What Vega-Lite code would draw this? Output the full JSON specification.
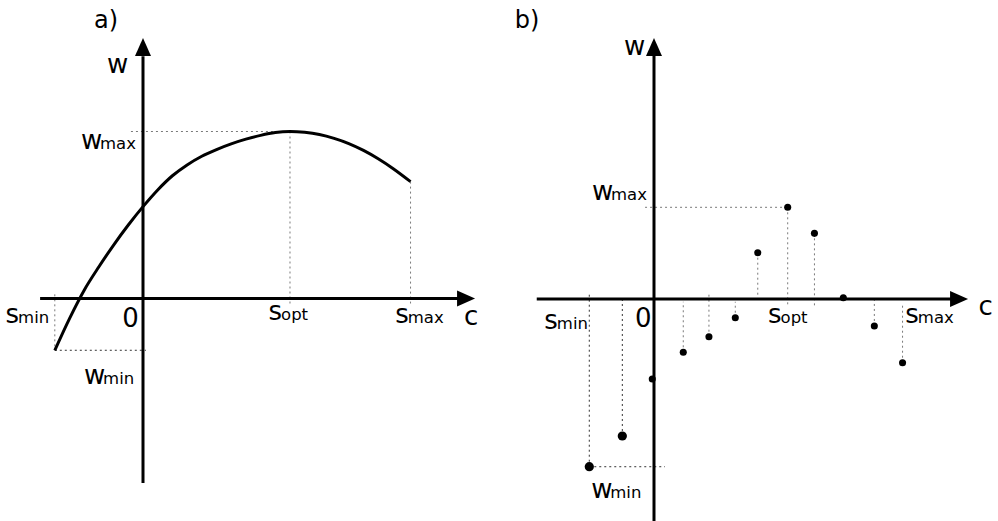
{
  "$schema": "https://vega.github.io/schema/vega-lite/v6.json",
  "padding": 0,
  "spacing": 0,
  "bounds": "flush",
  "background": "white",
  "config": {
    "view": {"stroke": null},
    "font": "DejaVu Sans",
    "text": {"font": "DejaVu Sans", "color": "black", "baseline": "alphabetic", "align": "left"}
  },
  "datasets": {
    "curveA": [
      {"c": -0.60, "w": -0.31}, {"c": -0.50, "w": -0.12}, {"c": -0.40, "w": 0.05},
      {"c": -0.30, "w": 0.19}, {"c": -0.20, "w": 0.32}, {"c": -0.10, "w": 0.44},
      {"c": 0.0, "w": 0.55}, {"c": 0.10, "w": 0.65}, {"c": 0.20, "w": 0.735},
      {"c": 0.30, "w": 0.80}, {"c": 0.40, "w": 0.852}, {"c": 0.50, "w": 0.892},
      {"c": 0.60, "w": 0.926}, {"c": 0.70, "w": 0.954}, {"c": 0.80, "w": 0.977},
      {"c": 0.90, "w": 0.994}, {"c": 1.0, "w": 1.0}, {"c": 1.10, "w": 0.995},
      {"c": 1.20, "w": 0.982}, {"c": 1.30, "w": 0.959}, {"c": 1.40, "w": 0.928},
      {"c": 1.50, "w": 0.887}, {"c": 1.60, "w": 0.837}, {"c": 1.70, "w": 0.779},
      {"c": 1.82, "w": 0.70}
    ],
    "guidesA": [
      {"c": -0.082, "w": 1.0, "c2": 1.0, "w2": 1.0, "kind": "ref"},
      {"c": 1.0, "w": 1.0, "c2": 1.0, "w2": -0.03, "kind": "ref"},
      {"c": 1.82, "w": 0.70, "c2": 1.82, "w2": -0.03, "kind": "ref"},
      {"c": -0.60, "w": 0.025, "c2": -0.60, "w2": -0.31, "kind": "ref"},
      {"c": -0.60, "w": -0.31, "c2": 0.02, "w2": -0.31, "kind": "min"}
    ],
    "axesA": [
      {"c": -0.70, "w": 0, "c2": 2.16, "w2": 0},
      {"c": 0, "w": -1.105, "c2": 0, "w2": 1.45}
    ],
    "tipRightA": [{"c": 2.259, "w": 0}],
    "tipUpA": [{"c": 0, "w": 1.560}],
    "labelsA": [
      {"letter": "w", "sub": null, "c": -0.245, "w": 1.350},
      {"letter": "w", "sub": "max", "c": -0.422, "w": 0.895},
      {"letter": "w", "sub": "min", "c": -0.401, "w": -0.512},
      {"letter": "s", "sub": "min", "c": -0.935, "w": -0.145},
      {"letter": "0", "sub": null, "c": -0.141, "w": -0.169},
      {"letter": "s", "sub": "opt", "c": 0.854, "w": -0.129},
      {"letter": "s", "sub": "max", "c": 1.716, "w": -0.149},
      {"letter": "c", "sub": null, "c": 2.184, "w": -0.159}
    ],
    "tagA": [{"tag": "a)", "c": -0.333, "w": 1.620}],
    "pointsB": [
      {"c": -0.484, "w": -1.829}, {"c": -0.237, "w": -1.494}, {"c": -0.013, "w": -0.872},
      {"c": 0.219, "w": -0.581}, {"c": 0.411, "w": -0.411}, {"c": 0.608, "w": -0.204},
      {"c": 0.776, "w": 0.505}, {"c": 1.0, "w": 1.0}, {"c": 1.2, "w": 0.716},
      {"c": 1.416, "w": 0.014}, {"c": 1.648, "w": -0.294}, {"c": 1.859, "w": -0.695}
    ],
    "guidesB": [
      {"c": -0.067, "w": 1.0, "c2": 1.0, "w2": 1.0, "kind": "ref"},
      {"c": -0.484, "w": -1.829, "c2": 0.082, "w2": -1.829, "kind": "min"},
      {"c": -0.484, "w": -1.829, "c2": -0.484, "w2": 0.062, "kind": "min"},
      {"c": -0.237, "w": -1.494, "c2": -0.237, "w2": 0.02, "kind": "min"},
      {"c": 0.219, "w": -0.581, "c2": 0.219, "w2": -0.03, "kind": "ref"},
      {"c": 0.411, "w": -0.411, "c2": 0.411, "w2": 0.062, "kind": "ref"},
      {"c": 0.608, "w": -0.204, "c2": 0.608, "w2": -0.03, "kind": "ref"},
      {"c": 0.776, "w": 0.505, "c2": 0.776, "w2": 0.025, "kind": "ref"},
      {"c": 1.0, "w": 1.0, "c2": 1.0, "w2": -0.087, "kind": "ref"},
      {"c": 1.2, "w": 0.716, "c2": 1.2, "w2": -0.087, "kind": "ref"},
      {"c": 1.648, "w": -0.294, "c2": 1.648, "w2": 0.008, "kind": "ref"},
      {"c": 1.859, "w": -0.695, "c2": 1.859, "w2": -0.047, "kind": "ref"}
    ],
    "axesB": [
      {"c": -0.877, "w": 0, "c2": 2.25, "w2": 0},
      {"c": 0, "w": -2.421, "c2": 0, "w2": 2.70}
    ],
    "tipRightB": [{"c": 2.349, "w": 0}],
    "tipUpB": [{"c": 0, "w": 2.846}],
    "labelsB": [
      {"letter": "w", "sub": null, "c": -0.224, "w": 2.661},
      {"letter": "w", "sub": "max", "c": -0.464, "w": 1.080},
      {"letter": "w", "sub": "min", "c": -0.469, "w": -2.173},
      {"letter": "s", "sub": "min", "c": -0.820, "w": -0.330},
      {"letter": "0", "sub": null, "c": -0.142, "w": -0.302},
      {"letter": "s", "sub": "opt", "c": 0.853, "w": -0.265},
      {"letter": "s", "sub": "max", "c": 1.880, "w": -0.265},
      {"letter": "c", "sub": null, "c": 2.428, "w": -0.174}
    ],
    "tagB": [{"tag": "b)", "c": -1.042, "w": 2.952}]
  },
  "hconcat": [
    {
      "width": 499,
      "height": 521,
      "encoding": {
        "x": {"field": "c", "type": "quantitative", "scale": {"domain": [-0.97279, 2.42177], "nice": false, "zero": false}, "axis": null},
        "y": {"field": "w", "type": "quantitative", "scale": {"domain": [-1.33234, 1.78743], "nice": false, "zero": false}, "axis": null}
      },
      "layer": [
        {
          "data": {"name": "guidesA"},
          "mark": {"type": "rule", "strokeWidth": 1, "strokeDash": [2, 3]},
          "encoding": {
            "x2": {"field": "c2"},
            "y2": {"field": "w2"},
            "color": {"field": "kind", "type": "nominal", "scale": {"domain": ["min", "ref"], "range": ["#333333", "#7a7a7a"]}, "legend": null}
          }
        },
        {
          "data": {"name": "curveA"},
          "mark": {"type": "line", "color": "black", "strokeWidth": 3, "interpolate": "monotone"},
          "encoding": {}
        },
        {
          "data": {"name": "axesA"},
          "mark": {"type": "rule", "color": "black", "strokeWidth": 3},
          "encoding": {"x2": {"field": "c2"}, "y2": {"field": "w2"}}
        },
        {
          "data": {"name": "tipRightA"},
          "mark": {"type": "point", "shape": "M0,0L-1,-0.444L-1,0.444Z", "size": 1296, "filled": true, "color": "black", "opacity": 1, "strokeWidth": 0}
        },
        {
          "data": {"name": "tipUpA"},
          "mark": {"type": "point", "shape": "M0,0L-0.444,1L0.444,1Z", "size": 1296, "filled": true, "color": "black", "opacity": 1, "strokeWidth": 0}
        },
        {
          "data": {"name": "labelsA"},
          "mark": {"type": "text", "fontSize": 26},
          "encoding": {"text": {"field": "letter"}}
        },
        {
          "data": {"name": "labelsA"},
          "transform": [{"filter": "datum.letter === 'w' && datum.sub"}],
          "mark": {"type": "text", "fontSize": 16.5, "dx": 19},
          "encoding": {"text": {"field": "sub"}}
        },
        {
          "data": {"name": "labelsA"},
          "transform": [{"filter": "datum.letter === 's' && datum.sub"}],
          "mark": {"type": "text", "fontSize": 16.5, "dx": 12.5},
          "encoding": {"text": {"field": "sub"}}
        },
        {
          "data": {"name": "tagA"},
          "mark": {"type": "text", "fontSize": 24},
          "encoding": {"text": {"field": "tag"}}
        }
      ]
    },
    {
      "width": 499,
      "height": 521,
      "encoding": {
        "x": {"field": "c", "type": "quantitative", "scale": {"domain": [-1.15931, 2.57293], "nice": false, "zero": false}, "axis": null},
        "y": {"field": "w", "type": "quantitative", "scale": {"domain": [-2.42094, 3.26063], "nice": false, "zero": false}, "axis": null}
      },
      "layer": [
        {
          "data": {"name": "guidesB"},
          "mark": {"type": "rule", "strokeWidth": 1, "strokeDash": [2, 3]},
          "encoding": {
            "x2": {"field": "c2"},
            "y2": {"field": "w2"},
            "color": {"field": "kind", "type": "nominal", "scale": {"domain": ["min", "ref"], "range": ["#333333", "#7a7a7a"]}, "legend": null}
          }
        },
        {
          "data": {"name": "pointsB"},
          "mark": {"type": "point", "shape": "circle", "filled": true, "color": "black", "opacity": 1, "strokeWidth": 0},
          "encoding": {
            "size": {"condition": {"test": "datum.c < -0.1", "value": 85}, "value": 50}
          }
        },
        {
          "data": {"name": "axesB"},
          "mark": {"type": "rule", "color": "black", "strokeWidth": 3},
          "encoding": {"x2": {"field": "c2"}, "y2": {"field": "w2"}}
        },
        {
          "data": {"name": "tipRightB"},
          "mark": {"type": "point", "shape": "M0,0L-1,-0.444L-1,0.444Z", "size": 1296, "filled": true, "color": "black", "opacity": 1, "strokeWidth": 0}
        },
        {
          "data": {"name": "tipUpB"},
          "mark": {"type": "point", "shape": "M0,0L-0.444,1L0.444,1Z", "size": 1296, "filled": true, "color": "black", "opacity": 1, "strokeWidth": 0}
        },
        {
          "data": {"name": "labelsB"},
          "mark": {"type": "text", "fontSize": 26},
          "encoding": {"text": {"field": "letter"}}
        },
        {
          "data": {"name": "labelsB"},
          "transform": [{"filter": "datum.letter === 'w' && datum.sub"}],
          "mark": {"type": "text", "fontSize": 16.5, "dx": 19},
          "encoding": {"text": {"field": "sub"}}
        },
        {
          "data": {"name": "labelsB"},
          "transform": [{"filter": "datum.letter === 's' && datum.sub"}],
          "mark": {"type": "text", "fontSize": 16.5, "dx": 12.5},
          "encoding": {"text": {"field": "sub"}}
        },
        {
          "data": {"name": "tagB"},
          "mark": {"type": "text", "fontSize": 24},
          "encoding": {"text": {"field": "tag"}}
        }
      ]
    }
  ]
}
